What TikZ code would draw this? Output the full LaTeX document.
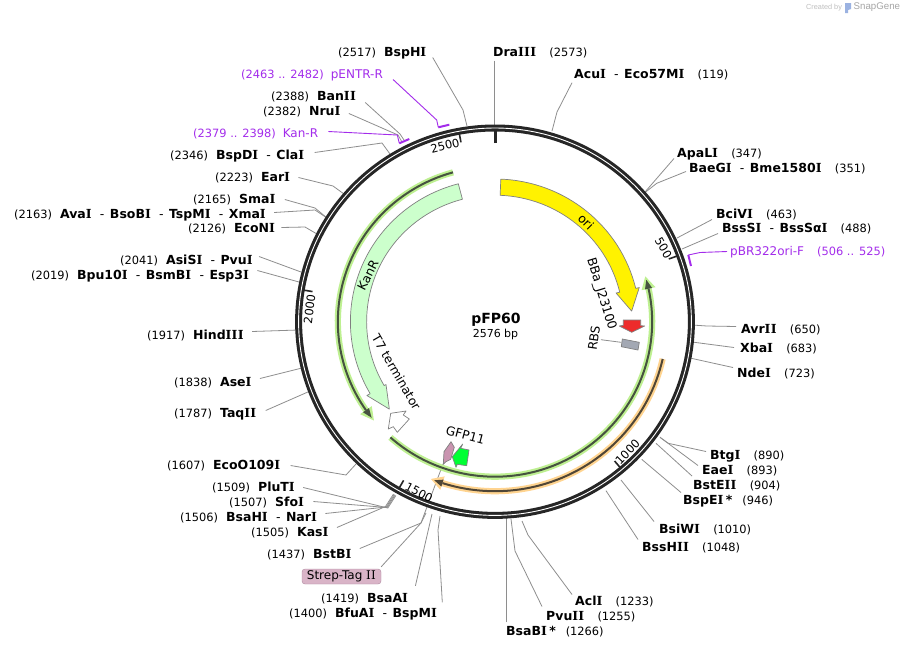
\documentclass[tikz,border=0pt]{standalone}
\usepackage{fontspec}
\setmainfont{DejaVu Sans}
\newfontfamily\wmfont{Liberation Sans}
\newfontfamily\serifI{DejaVu Serif}
\definecolor{ringc}{HTML}{262626}
\definecolor{connc}{HTML}{8E8E8E}
\definecolor{purp}{HTML}{A32CEB}
\definecolor{halog}{HTML}{BEF091}
\definecolor{haloo}{HTML}{FFD490}
\definecolor{darkg}{HTML}{465240}
\definecolor{darko}{HTML}{504636}
\newcommand\nfont{\fontsize{11.4}{13}\selectfont\mdseries}
\newcommand\bfontx{\fontsize{12.5}{14}\selectfont\bfseries}
\newcommand\hy{\hspace{8pt}{\mdseries -}\hspace{5.5pt}}
\newcommand\sI{{\serifI I}\kern.2pt}
\tikzset{
  x=1pt,y=-1pt,
  lab/.style={inner xsep=6pt,inner ysep=1pt,text height=9.5pt,text depth=2.5pt,anchor=base west},
  conn/.style={draw=connc,line width=0.8pt},
  pconn/.style={draw=purp,line width=0.9pt},
  ptick/.style={draw=purp,line width=2pt},
  feat/.style={draw=gray,line width=0.7pt,line join=round},
  ticklab/.style={font=\fontsize{11.5}{13}\selectfont,inner sep=0pt},
  featlab/.style={font=\fontsize{12.3}{14}\selectfont,inner sep=0pt},
  ticklin/.style={draw=ringc,line width=1.6pt}
}
% label with number first, name after
\newcommand\labL[5]{\node[lab] (#1) at ({#2-6},{#3+4}) {\nfont(#4)\hspace{8pt}\bfontx #5};}
% label with name first, number after
\newcommand\labR[5]{\node[lab] (#1) at ({#2-6},{#3+4}) {\bfontx #4\hspace{13pt}\nfont(#5)};}
\newcommand\wire[5][0,0]{\coordinate (#2-k) at (#4); \coordinate (#2-r) at (#5);
  \draw[conn] ([shift={(#1)}]#2.#3) -- (#2-k) -- (#2-r);}
\newcommand\wireS[4][0,0]{\coordinate (#2-r) at (#4);
  \draw[conn] ([shift={(#1)}]#2.#3) -- (#2-r);}
% r, start, base, tip, dark, halo, halotip
\newcommand\garc[7]{%
  \draw[#6,line width=6.2pt] (#2:#1) arc[start angle=#2,end angle=#3,radius=#1];
  \fill[#6] (#3:#1+7) -- (#7:#1) -- (#3:#1-7) -- cycle;
  \draw[#5,line width=2pt] (#2:#1) arc[start angle=#2,end angle=#3,radius=#1];
  \fill[#5] (#3:#1+3.6) -- (#4:#1) -- (#3:#1-3.6) -- cycle;
}
\begin{document}
\begin{tikzpicture}
\useasboundingbox (0,0) rectangle (903,649);
\fill[white] (0,0) rectangle (903,649);

% watermark
\node[inner sep=0pt,anchor=west,text=gray!50] (wm1) at (806,7.5) {\wmfont\fontsize{7.3}{9}\selectfont Created by};
\fill[cyan!45!blue!40] (845,3) -- (851,3) -- (851,9) -- (848,10) -- (848,13) -- (845,13) -- cycle;
\node[inner sep=0pt,anchor=west,text=gray!70] (wm2) at (853.5,7.5) {\wmfont\fontsize{9.7}{11}\selectfont SnapGene};

% labels
\labL{bsphi}{338}{52}{2517}{BspH\sI}
\labR{draiii}{493}{52}{Dra\sI\sI\sI}{2573}
\labR{acui}{574}{74}{Acu\sI\hy Eco57M\sI}{119}
\labR{apali}{677}{153}{ApaL\sI}{347}
\labR{baegi}{689}{168}{BaeG\sI\hy Bme1580\sI}{351}
\labR{bcivi}{716}{214}{BciV\sI}{463}
\labR{bsssi}{722}{228}{BssS\sI\hy BssSα\sI}{488}
\node[lab,text=purp] (pbr) at (724,255) {\fontsize{12}{14}\selectfont pBR322ori-F\hspace{13pt}\nfont(506 .. 525)};
\labR{avrii}{741}{329}{Avr\sI\sI}{650}
\labR{xbai}{740}{348}{Xba\sI}{683}
\labR{ndei}{737}{373}{Nde\sI}{723}
\labR{btgi}{710}{455}{Btg\sI}{890}
\labR{eaei}{702}{470}{Eae\sI}{893}
\labR{bsteii}{693}{485}{BstE\sI\sI}{904}
\node[lab] (bspei) at (677,504) {\bfontx BspE\sI\,*\hspace{10pt}\nfont(946)};
\labR{bsiwi}{659}{529}{BsiW\sI}{1010}
\labR{bsshii}{642}{547}{BssH\sI\sI}{1048}
\labR{acli}{575}{601}{Acl\sI}{1233}
\labR{pvuii}{546}{616}{Pvu\sI\sI}{1255}
\node[lab] (bsabi) at (500,635) {\bfontx BsaB\sI\,*\hspace{10pt}\nfont(1266)};
\labL{bfuai}{289}{613}{1400}{BfuA\sI\hy BspM\sI}
\labL{bsaai}{321}{598}{1419}{BsaA\sI}
\labL{bstbi}{267}{554}{1437}{BstB\sI}
\labL{kasi}{251}{532}{1505}{Kas\sI}
\labL{bsahi}{180}{517}{1506}{BsaH\sI\hy Nar\sI}
\labL{sfoi}{229}{502}{1507}{Sfo\sI}
\labL{pluti}{212}{487}{1509}{PluT\sI}
\labL{ecoo}{167}{465}{1607}{EcoO109\sI}
\labL{taqii}{174}{413}{1787}{Taq\sI\sI}
\labL{asei}{174}{382}{1838}{Ase\sI}
\labL{hind}{147}{335}{1917}{Hind\sI\sI\sI}
\labL{bpu}{31}{275}{2019}{Bpu10\sI\hy BsmB\sI\hy Esp3\sI}
\labL{asisi}{120}{260}{2041}{AsiS\sI\hy Pvu\sI}
\labL{econi}{188}{228}{2126}{EcoN\sI}
\labL{ava}{14}{214}{2163}{Ava\sI\hy BsoB\sI\hy TspM\sI\hy Xma\sI}
\labL{smai}{193}{199}{2165}{Sma\sI}
\labL{eari}{215}{177}{2223}{Ear\sI}
\labL{bspdi}{170}{155}{2346}{BspD\sI\hy Cla\sI}
\labL{nrui}{263}{111}{2382}{Nru\sI}
\labL{banii}{271}{96}{2388}{Ban\sI\sI}
\node[lab,text=purp] (kan) at (187,137) {\nfont(2379 .. 2398)\hspace{7pt}\fontsize{12}{14}\selectfont Kan-R};
\node[lab,text=purp] (pentr) at (235,78) {\nfont(2463 .. 2482)\hspace{7pt}\fontsize{12}{14}\selectfont pENTR-R};
\node[draw={rgb,255:red,176;green,138;blue,160},fill={rgb,255:red,217;green,180;blue,199},rounded corners=3pt,inner sep=0pt,minimum width=79pt,minimum height=15pt,font=\fontsize{12}{14}\selectfont] (strep) at (341.5,576.5) {Strep-Tag \sI\sI};

% connectors
\wire[0,5]{bsphi}{east}{463,110}{467,126}
\wireS[7,1]{draiii}{south west}{494,126}
\wire[4,1]{acui}{south west}{557,112}{552,131}
\wireS[3,5]{apali}{west}{645,192}
\wire[3,3]{baegi}{west}{656.7,183.3}{645.7,192}
\wireS[2,5]{bcivi}{west}{677,238}
\wireS[2,5]{bsssi}{west}{682,249}
\wire[1,-3]{avrii}{west}{707,326}{692,325}
\wireS[0,-1]{xbai}{west}{692,342}
\wire[2,-6]{ndei}{west}{708,362}{690,358}
\wire[2,-4]{btgi}{west}{668.3,443.3}{660,437.3}
\wireS[2,-5]{eaei}{west}{660,437.3}
\wireS[5,-9.5]{bsteii}{west}{656,443.3}
\wireS[4,-8]{bspei}{west}{641.7,459.3}
\wireS[1,-8]{bsiwi}{west}{621,480}
\wireS[2,-8]{bsshii}{west}{606,490.7}
\wire[3,-7]{acli}{west}{528,535}{522,521}
\wire[2,-10]{pvuii}{west}{515,551}{511,519}
\wireS[6,-2]{bsabi}{north west}{506,518}
\wire[-1,-4]{bfuai}{north east}{438,530}{440,516}
\wireS[1,-5.5]{bsaai}{north east}{432,514}
\wire[0,-2]{strep}{north east}{421,523}{443,464}
\wire[2,-6]{bstbi}{east}{421,523}{426,513}
\wire[2,-5]{kasi}{east}{385.5,506.5}{393.5,494}
\wire[2,-4]{bsahi}{east}{386.3,507}{394.3,494.5}
\wire[3,-1]{sfoi}{east}{387,507.5}{395.1,495}
\wire[2,0]{pluti}{east}{387.8,508}{395.9,495.5}
\wire[4,0]{ecoo}{east}{346,475}{356,464}
\wireS[3,-3]{taqii}{east}{309,391.5}
\wireS[2,-4]{asei}{east}{302,368}
\wireS[2,-4]{hind}{east}{298,330}
\wireS[2,-5]{bpu}{east}{299,282}
\wireS[0,-4]{asisi}{east}{301,272}
\wire[0,-1]{econi}{east}{305,227}{317,234}
\wire[2,-2]{ava}{east}{315,210}{327,218}
\wire[3,0]{smai}{east}{315,208}{327,218}
\wire[2,0]{eari}{east}{333,186}{344,194}
\wire[4,-3]{bspdi}{east}{382,143}{390,154}
\wire[2,2]{nrui}{east}{398,135}{402,142}
\wire[3,6]{banii}{east}{400,134}{404,140}

% primer connectors and ticks
\coordinate (pbrk) at (700,252.5);
\coordinate (pbra) at (688.3,255);
\coordinate (pbrb) at (691,266);
\draw[pconn] ([shift={(3,0)}]pbr.west) -- (pbrk) -- (pbra);
\draw[ptick] (pbra) -- (pbrb);
\coordinate (kank) at (397.3,135);
\coordinate (kana) at (399.3,143.3);
\coordinate (kanb) at (409.3,139);
\draw[pconn] ([shift={(4,-2)}]kan.east) -- (kank) -- (kana);
\draw[ptick] (kana) -- (kanb);
\coordinate (pentrk) at (436.7,120);
\coordinate (pentra) at (438.3,127.3);
\coordinate (pentrb) at (449.3,124.7);
\draw[pconn] ([shift={(4,5)}]pentr.east) -- (pentrk) -- (pentra);
\draw[ptick] (pentra) -- (pentrb);

% plasmid ring and features
\begin{scope}[shift={(495,321.7)},xscale=1.014]
  \draw[ringc,line width=7pt] (0,0) circle[radius=193.7];
  \draw[white,line width=0.9pt] (0,0) circle[radius=193.7];
  \draw[ringc,line width=3pt] (-90:178.7) -- (-90:191);
  \foreach \a in {-20.1,49.75,119.6,189.5,259.4}{\draw[ticklin] (\a:182.5) -- (\a:191);}
  % arcs with arrows
  \garc{155}{254.5}{145.2}{141.7}{darkg}{halog}{140.4}
  \garc{155}{131.7}{-12.3}{-15.7}{darkg}{halog}{-17}
  \garc{169.5}{12.7}{107.8}{110.7}{darko}{haloo}{111.9}
  % ori
  \draw[feat,fill=yellow] (-87.7:142.7) arc[start angle=-87.7,end angle=-13.5,radius=142.7] -- (-13.5:146.3) -- (-4.5:135.2) -- (-13.5:122.8) -- (-13.5:126.5) arc[start angle=-13.5,end angle=-87.7,radius=126.5] -- cycle;
  % KanR
  \draw[feat,fill={rgb,255:red,204;green,255;blue,204}] (255.3:142.6) arc[start angle=255.3,end angle=149.7,radius=142.6] -- (149.7:146.3) -- (140:136) -- (149.7:124.5) -- (149.7:126.6) arc[start angle=149.7,end angle=255.3,radius=126.6] -- cycle;
\end{scope}

% other features
\draw[feat,fill={rgb,255:red,237;green,43;blue,43}] (623.3,320) -- (640.7,320) -- (640.7,325.7) -- (644.7,326) -- (631.7,332.3) -- (619.3,326) -- (623.3,325.3) -- cycle;
\node[featlab,rotate=82] (rbs) at (594,338) {RBS};
\coordinate (rbsbox) at (621,342.3);
\draw[conn] ([shift={(2,1)}]rbs.south) -- (rbsbox);
\draw[feat,fill={rgb,255:red,163;green,168;blue,179}] (622.3,339) -- (639.3,342.3) -- (638,350) -- (621.3,346.7) -- cycle;
\draw[feat,fill=white] (388.3,429) -- (390.7,413.3) -- (406,411) -- (403.3,415) -- (409.3,419) -- (397.3,432.3) -- (393.3,426.7) -- cycle;
\draw[feat,fill={rgb,255:red,201;green,148;blue,176}] (443.3,464.3) -- (444,451.7) -- (451,441.7) -- (454.3,447.3) -- (450.7,459.3) -- (446,461.7) -- cycle;
\draw[feat,fill={rgb,255:red,0;green,255;blue,51}] (456,467.3) -- (452.3,456.7) -- (462.7,444) -- (460.7,448.3) -- (469,450) -- (466.7,465.7) -- (457.3,464.3) -- cycle;

% texts
\node[inner sep=0pt,font=\fontsize{14}{16}\selectfont\bfseries] (title) at (496,319.5) {pFP60};
\node[inner sep=0pt,font=\fontsize{11}{13}\selectfont] (size) at (495.5,334) {2576 bp};
\node[ticklab,rotate=-60] (t500) at (663.5,248) {500};
\node[ticklab,rotate=46] (t1000) at (627.5,452) {1000};
\node[ticklab,rotate=-28] (t1500) at (419,492.5) {1500};
\node[ticklab,rotate=83] (t2000) at (309.5,309) {2000};
\node[ticklab,rotate=14] (t2500) at (445,145.7) {2500};
\node[featlab,rotate=-45] (ori) at (586,222) {ori};
\node[featlab,rotate=-73,font=\fontsize{12.5}{14}\selectfont] (bba) at (601,294) {BBa\_J23100};
\node[featlab,rotate=63] (kanr) at (368,275) {KanR};
\node[featlab,rotate=-60] (t7) at (396.5,372) {T7 terminator};
\node[featlab,rotate=-15] (gfp) at (465.5,435) {GFP11};
\end{tikzpicture}
\end{document}
